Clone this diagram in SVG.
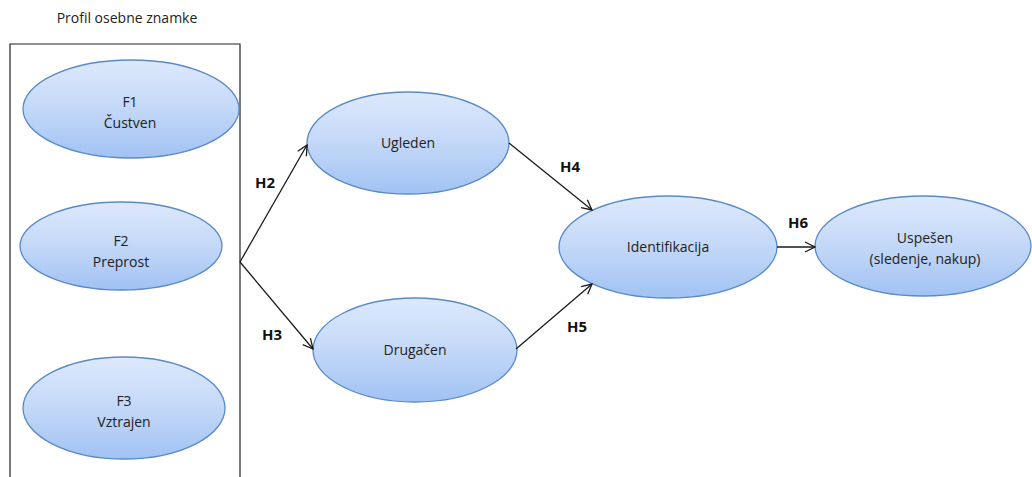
<svg xmlns="http://www.w3.org/2000/svg" width="1032" height="477" viewBox="0 0 1032 477">
  <style>
    .node ellipse { fill: url(#bubble); stroke: #5a8ac6; stroke-width: 1.3; }
    .lbl { font-family: "Open Sans", "Liberation Sans", sans-serif; font-size: 14px; fill: #222; text-anchor: middle; }
    .hyp { font-family: "Open Sans", "Liberation Sans", sans-serif; font-size: 15px; font-weight: bold; fill: #111; text-anchor: middle; }
    .edge { stroke: #1a1a1a; stroke-width: 1.3; fill: none; marker-end: url(#arrow); }
  </style>
  <defs>
    <linearGradient id="bubble" x1="0" y1="0" x2="0" y2="1">
      <stop offset="0" stop-color="#dde9fc"/>
      <stop offset="0.5" stop-color="#c3d8f8"/>
      <stop offset="1" stop-color="#a1c2f3"/>
    </linearGradient>
    <marker id="arrow" viewBox="0 0 12 12" refX="11" refY="6" markerWidth="12" markerHeight="12" markerUnits="userSpaceOnUse" orient="auto">
      <path d="M1,1 L11,6 L1,11" fill="none" stroke="#1a1a1a" stroke-width="1.3"/>
    </marker>
  </defs>

  <rect width="1032" height="477" fill="#ffffff"/>

  <!-- brand profile frame -->
  <g id="profile">
    <text class="lbl" x="127" y="23" font-size="13.5">Profil osebne znamke</text>
    <path d="M10,477 V44 H240 V477" fill="none" stroke="#222" stroke-width="1.2"/>
  </g>

  <g id="f1" class="node">
    <ellipse cx="131" cy="109" rx="108" ry="49"/>
    <text class="lbl" x="130" y="107">F1</text>
    <text class="lbl" x="130" y="128">Čustven</text>
  </g>
  <g id="f2" class="node">
    <ellipse cx="121" cy="246" rx="101" ry="44"/>
    <text class="lbl" x="121" y="246">F2</text>
    <text class="lbl" x="121" y="267">Preprost</text>
  </g>
  <g id="f3" class="node">
    <ellipse cx="124" cy="408" rx="101" ry="51"/>
    <text class="lbl" x="124" y="406">F3</text>
    <text class="lbl" x="124" y="427">Vztrajen</text>
  </g>

  <g id="ugleden" class="node">
    <ellipse cx="408" cy="143" rx="101" ry="51"/>
    <text class="lbl" x="408" y="148">Ugleden</text>
  </g>
  <g id="drugacen" class="node">
    <ellipse cx="415" cy="350" rx="102" ry="52"/>
    <text class="lbl" x="415" y="355">Drugačen</text>
  </g>
  <g id="identifikacija" class="node">
    <ellipse cx="668" cy="247" rx="109" ry="51"/>
    <text class="lbl" x="668" y="252">Identifikacija</text>
  </g>
  <g id="uspesen" class="node">
    <ellipse cx="923" cy="246" rx="108" ry="50"/>
    <text class="lbl" x="925" y="243">Uspešen</text>
    <text class="lbl" x="925" y="264">(sledenje, nakup)</text>
  </g>

  <!-- hypothesis paths -->
  <g id="connectors">
    <path class="edge" d="M240,262 L307,145"/>
    <path class="edge" d="M240,262 L313,349"/>
    <path class="edge" d="M509,143 L592,210"/>
    <path class="edge" d="M516,349 L592,284"/>
    <path class="edge" d="M777,247 L815,247"/>
    <text class="hyp" x="265" y="188">H2</text>
    <text class="hyp" x="272" y="340">H3</text>
    <text class="hyp" x="570" y="172">H4</text>
    <text class="hyp" x="577" y="332">H5</text>
    <text class="hyp" x="798" y="228">H6</text>
  </g>
</svg>
